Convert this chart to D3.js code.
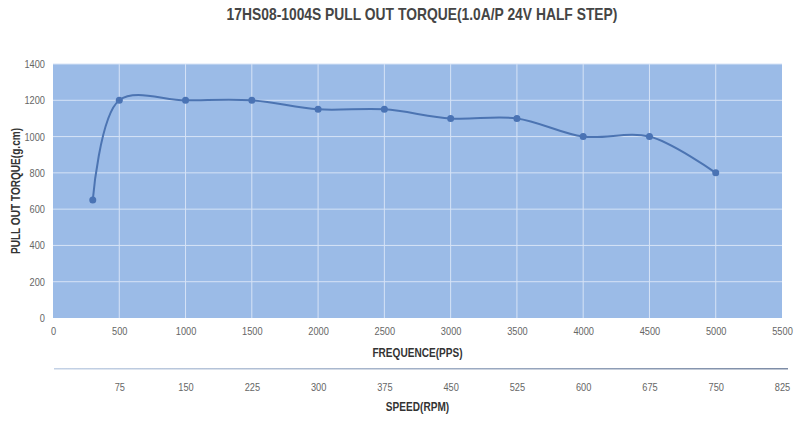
<!DOCTYPE html>
<html>
<head>
<meta charset="utf-8">
<script src="https://cdn.jsdelivr.net/npm/d3@7"></script>
<style>
  html, body { margin: 0; padding: 0; background: #fff; }
  #chart { width: 800px; height: 423px; }
</style>
</head>
<body>
<div id="chart"></div>
<script>
// data
const freqPps   = [300, 500, 1000, 1500, 2000, 2500, 3000, 3500, 4000, 4500, 5000];
const torqueGcm = [650, 1200, 1200, 1200, 1150, 1150, 1100, 1100, 1000, 1000, 800];
const xTicks    = [0, 500, 1000, 1500, 2000, 2500, 3000, 3500, 4000, 4500, 5000, 5500];
const yTicks    = [0, 200, 400, 600, 800, 1000, 1200, 1400];
const rpmTicks  = [75, 150, 225, 300, 375, 450, 525, 600, 675, 750, 825];

const W = 800, H = 423;
const plot = { left: 53, right: 782, top: 64, bottom: 318 };
const font = "'Liberation Sans', Arial, sans-serif";
const narrow = 'scale(0.84,1)';   // reference uses a condensed face

const svg = d3.select('#chart').append('svg')
  .attr('width', W).attr('height', H);

// ── Scales ─────────────────────────────────────────────────────────────
const x = d3.scaleLinear().domain([0, 5500]).range([plot.left, plot.right]);
const y = d3.scaleLinear().domain([0, 1400]).range([plot.bottom, plot.top]);
// half step, 1.8° motor: rpm = pps * 0.15
const xRpm = d3.scaleLinear().domain([0, 825]).range([plot.left, plot.right]);

// helper for condensed, centred labels
const label = (cx, cy, txt, opts = {}) => svg.append('g')
  .attr('transform', `translate(${cx},${cy}) rotate(${opts.rotate || 0}) ${narrow}`)
  .append('text')
  .attr('text-anchor', 'middle')
  .attr('font-family', font)
  .attr('font-weight', 'bold')
  .attr('font-size', opts.size || '12px')
  .attr('fill', opts.fill || '#333')
  .text(txt);

// ── Title ──────────────────────────────────────────────────────────────
label(422, 20, '17HS08-1004S PULL OUT TORQUE(1.0A/P 24V HALF STEP)', { size: '16.5px', fill: '#454545' });

// ── Plot background + grid ─────────────────────────────────────────────
svg.append('rect')
  .attr('x', plot.left).attr('y', plot.top)
  .attr('width', plot.right - plot.left).attr('height', plot.bottom - plot.top)
  .attr('fill', '#9bbbe7');

svg.append('g')
  .selectAll('line')
  .data(yTicks.slice(1))
  .join('line')
  .attr('x1', plot.left).attr('x2', plot.right)
  .attr('y1', d => y(d)).attr('y2', d => y(d))
  .attr('stroke', '#d6e3f6').attr('stroke-width', 1);

svg.append('g')
  .selectAll('line')
  .data(xTicks.slice(1, -1))
  .join('line')
  .attr('x1', d => x(d)).attr('x2', d => x(d))
  .attr('y1', plot.top).attr('y2', plot.bottom)
  .attr('stroke', '#d6e3f6').attr('stroke-width', 1);

// ── Axes (labels only) ─────────────────────────────────────────────────
const styleAxis = ax => {
  ax.select('.domain').remove();
  ax.selectAll('.tick line').remove();
  ax.selectAll('.tick text')
    .attr('fill', '#666')
    .attr('font-size', '11px')
    .attr('font-family', font)
    .attr('transform', narrow);
};

svg.append('g')
  .attr('transform', `translate(0,${plot.bottom + 4})`)
  .call(d3.axisBottom(x).tickValues(xTicks).tickFormat(d3.format('d')).tickSize(0).tickPadding(5))
  .call(styleAxis);

svg.append('g')
  .attr('transform', `translate(${plot.left - 8},0)`)
  .call(d3.axisLeft(y).tickValues(yTicks).tickFormat(d3.format('d')).tickSize(0).tickPadding(0))
  .call(styleAxis);

label(20, (plot.top + plot.bottom) / 2, 'PULL OUT TORQUE(g.cm)', { rotate: -90 });
label((plot.left + plot.right) / 2, 357, 'FREQUENCE(PPS)');

// ── Secondary speed axis ───────────────────────────────────────────────
const grad = svg.append('defs').append('linearGradient')
  .attr('id', 'rpmLine').attr('x1', '0%').attr('x2', '100%');
grad.append('stop').attr('offset', '0%').attr('stop-color', '#c4d2e6');
grad.append('stop').attr('offset', '100%').attr('stop-color', '#7d8ca6');

svg.append('rect')
  .attr('x', plot.left + 1).attr('y', 368)
  .attr('width', 788 - plot.left - 1).attr('height', 1.5)
  .attr('fill', 'url(#rpmLine)');

svg.append('g')
  .attr('transform', 'translate(0,380)')
  .call(d3.axisBottom(xRpm).tickValues(rpmTicks).tickSize(0).tickPadding(3))
  .call(styleAxis);

label((plot.left + plot.right) / 2, 411, 'SPEED(RPM)');

// ── Torque curve ───────────────────────────────────────────────────────
const pts = freqPps.map((f, i) => [f, torqueGcm[i]]);

const line = d3.line()
  .x(d => x(d[0]))
  .y(d => y(d[1]))
  .curve(d3.curveCatmullRom.alpha(0.5));

svg.append('path')
  .datum(pts)
  .attr('d', line)
  .attr('fill', 'none')
  .attr('stroke', '#4c74b2')
  .attr('stroke-width', 2);

svg.append('g')
  .selectAll('circle')
  .data(pts)
  .join('circle')
  .attr('cx', d => x(d[0]))
  .attr('cy', d => y(d[1]))
  .attr('r', 3.5)
  .attr('fill', '#4a73b4');
</script>
</body>
</html>
